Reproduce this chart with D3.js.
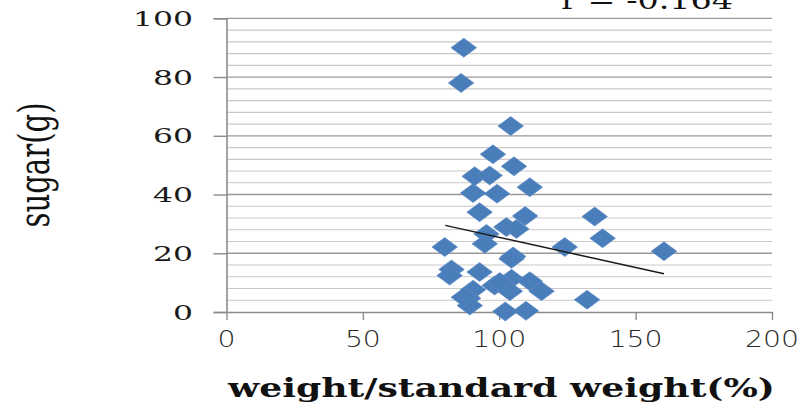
<!DOCTYPE html>
<html>
<head>
<meta charset="utf-8">
<script src="https://cdn.jsdelivr.net/npm/d3@7"></script>
<style>
  html, body { margin: 0; padding: 0; background: #ffffff; }
  svg { display: block; }
</style>
</head>
<body>
<svg id="chart" width="800" height="406"></svg>
<script>
// ---- data ----
const weightPct = [87, 86, 104.2, 97.7, 105.4, 91, 96.5, 111.2, 90.4, 99.2,
                   92.8, 109.5, 102.6, 106.3, 95.3, 94.7, 80, 105.1, 124, 135,
                   137.9, 160.4, 132.2, 82.5, 81.8, 92.8, 98.3, 90.4, 88.6, 89.2,
                   104.5, 103.9, 111.2, 115.5, 102.2, 109.8, 100.2, 87, 104.5];
const sugarG    = [90, 78, 63.3, 53.7, 49.6, 46.2, 46.5, 42.5, 40.5, 40.3,
                   34, 32.7, 28.9, 28.3, 26.6, 23.2, 22.1, 18.9, 22.1, 32.5,
                   25.1, 20.7, 4.2, 14.5, 12.4, 13.6, 9, 7.6, 4.7, 2.2,
                   11.3, 7.1, 10.5, 7.1, 0.2, 0.4, 10.2, 5, 18.1];
const trendX = [80.2, 160.4];
const trendY = [29.5, 13.0];
const xTicks = [0, 50, 100, 150, 200];
const yTicks = [0, 20, 40, 60, 80, 100];
const yMinor = d3.range(0, 101, 4);
const xTitle = "weight/standard weight(%)";
const yTitle = "sugar(g)";
const rText = "r = -0.164";

// ---- drawing ----
const svg = d3.select("#chart");
const x = d3.scaleLinear().domain([0, 200]).range([226.5, 772]);
const y = d3.scaleLinear().domain([0, 100]).range([312, 18.3]);

// minor gridlines
svg.append("g").selectAll("line").data(yMinor.filter(v => v % 20 !== 0)).join("line")
  .attr("x1", x(0)).attr("x2", x(200))
  .attr("y1", d => y(d)).attr("y2", d => y(d))
  .attr("stroke", "#c9c9c9").attr("stroke-width", 1.2);

// major gridlines
svg.append("g").selectAll("line").data(yTicks.filter(v => v !== 0)).join("line")
  .attr("x1", x(0)).attr("x2", x(200))
  .attr("y1", d => y(d)).attr("y2", d => y(d))
  .attr("stroke", "#9a9a9a").attr("stroke-width", 1.3);

// y axis
const yAxis = d3.axisLeft(y).tickValues(yTicks).tickSize(13).tickFormat("");
const gy = svg.append("g").attr("transform", `translate(${x(0)},0)`).call(yAxis);
gy.select(".domain").attr("stroke", "#8c8c8c").attr("stroke-width", 1.6);
gy.selectAll(".tick line").attr("stroke", "#8c8c8c").attr("stroke-width", 1.4);

// x axis
const xAxis = d3.axisBottom(x).tickValues(xTicks).tickSize(8).tickSizeOuter(0).tickFormat("");
const gx = svg.append("g").attr("transform", `translate(0,${y(0)})`).call(xAxis);
gx.select(".domain").attr("stroke", "#8c8c8c").attr("stroke-width", 1.6);
gx.selectAll(".tick line").attr("stroke", "#8c8c8c").attr("stroke-width", 1.4);

// y tick labels (serif, stretched)
svg.append("g").selectAll("text").data(yTicks).join("text")
  .attr("x", 193).attr("y", d => y(d) + 7.5)
  .attr("text-anchor", "end")
  .attr("font-family", "DejaVu Serif")
  .attr("font-size", 21)
  .attr("fill", "#1a1a1a")
  .attr("textLength", d => String(d).length * 20)
  .attr("lengthAdjust", "spacingAndGlyphs")
  .text(d => d);

// x tick labels (light sans)
svg.append("g").selectAll("text").data(xTicks).join("text")
  .attr("x", d => x(d)).attr("y", 347)
  .attr("text-anchor", "middle")
  .attr("font-family", "DejaVu Sans")
  .attr("font-weight", 200)
  .attr("font-size", 23)
  .attr("fill", "#2a2a2a")
  .attr("textLength", d => String(d).length * 18)
  .attr("lengthAdjust", "spacingAndGlyphs")
  .text(d => d);

// x title
svg.append("text")
  .attr("x", 228).attr("y", 397)
  .attr("font-family", "DejaVu Serif")
  .attr("font-weight", "bold")
  .attr("font-size", 26)
  .attr("fill", "#111")
  .attr("textLength", 547)
  .attr("lengthAdjust", "spacingAndGlyphs")
  .text(xTitle);

// y title (rotated, stretched horizontally)
svg.append("text")
  .attr("transform", "translate(49,165) scale(1.6,1) rotate(-90)")
  .attr("text-anchor", "middle")
  .attr("font-family", "DejaVu Serif")
  .attr("font-size", 27)
  .attr("fill", "#111")
  .attr("textLength", 125)
  .attr("lengthAdjust", "spacingAndGlyphs")
  .text(yTitle);

// r text (cut off at top, as in the reference)
svg.append("text")
  .attr("x", 561).attr("y", 8.5)
  .attr("font-family", "DejaVu Serif")
  .attr("font-size", 26)
  .attr("fill", "#111")
  .attr("textLength", 172)
  .attr("lengthAdjust", "spacingAndGlyphs")
  .text(rText);

// points (diamonds)
const pts = weightPct.map((w, i) => ({ w, s: sugarG[i] }));
const hw = 12.8, hh = 9.5;
svg.append("g").selectAll("path").data(pts).join("path")
  .attr("transform", d => `translate(${x(d.w)},${y(d.s)})`)
  .attr("d", `M0,${-hh}L${hw},0L0,${hh}L${-hw},0Z`)
  .attr("fill", "#4a7ebb")
  .attr("stroke", "#5a8ac4")
  .attr("stroke-width", 0.6);

// trend line
svg.append("line")
  .attr("x1", x(trendX[0])).attr("y1", y(trendY[0]))
  .attr("x2", x(trendX[1])).attr("y2", y(trendY[1]))
  .attr("stroke", "#1a1a1a").attr("stroke-width", 1.5);
</script>
</body>
</html>
